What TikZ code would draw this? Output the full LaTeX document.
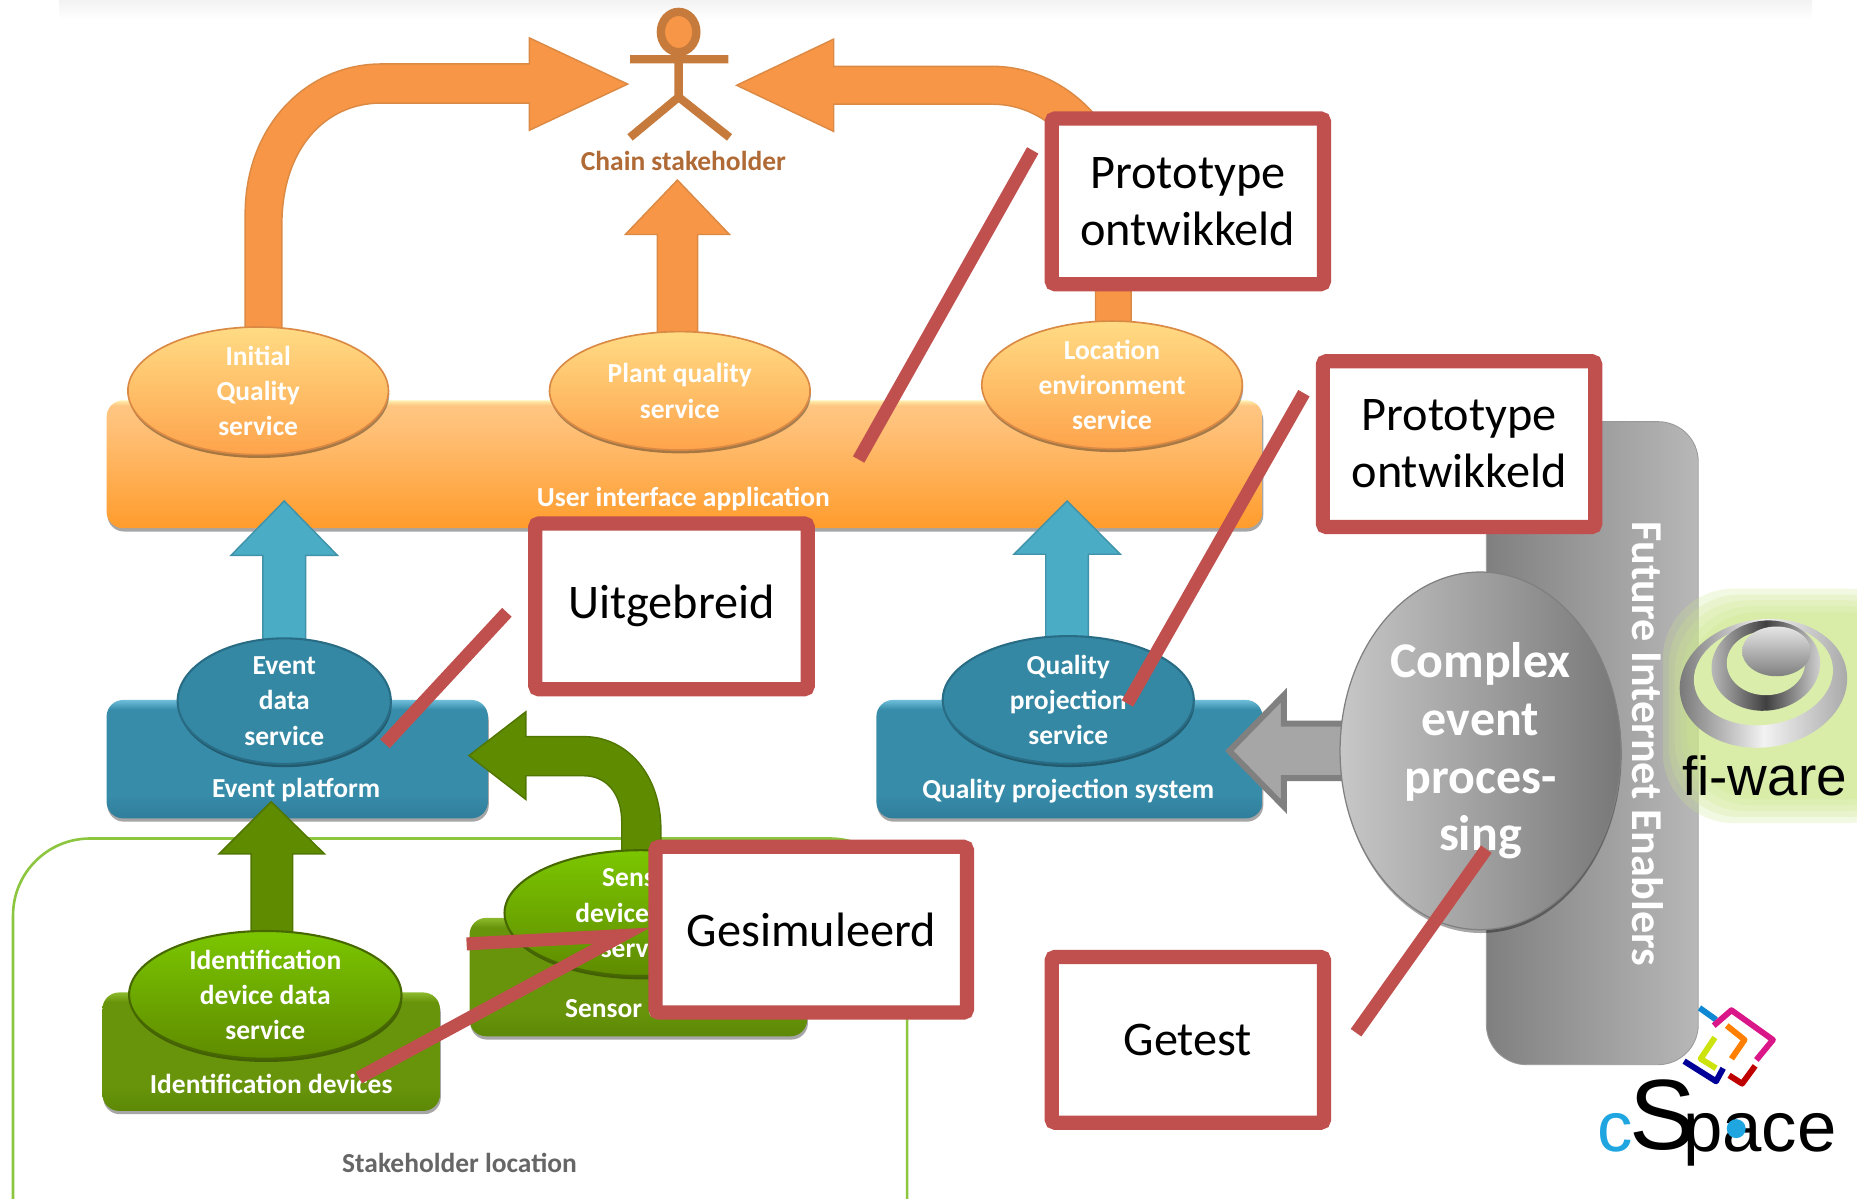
\documentclass[tikz,border=0pt]{standalone}
\usepackage{fontspec}
\setmainfont{Carlito}
\newfontfamily\logofont{Liberation Sans}
\usetikzlibrary{shapes.geometric,shadows}

\definecolor{fatorange}{HTML}{F79646}
\definecolor{darkorange}{HTML}{DB8A45}
\definecolor{actorline}{HTML}{C67A3C}
\definecolor{actortext}{HTML}{B06A35}
\definecolor{fatblue}{HTML}{4BACC6}
\definecolor{darkblue}{HTML}{2F7F9C}
\definecolor{fatgreen}{HTML}{5F8B00}
\definecolor{framegreen}{HTML}{8CC63F}
\definecolor{fatgrey}{HTML}{A6A6A6}
\definecolor{pointerred}{HTML}{C0504D}
\definecolor{glowgreen}{HTML}{CDE78F}
\definecolor{cspaceblue}{HTML}{1FA5E0}

\pgfdeclareverticalshading{orangebar}{100bp}{color(0bp)=(orange!0!white);color(25bp)=(rgb,255:red,255;green,156;blue,44);color(62bp)=(rgb,255:red,255;green,190;blue,115);color(73bp)=(rgb,255:red,255;green,198;blue,130);color(75bp)=(rgb,255:red,255;green,240;blue,175);color(100bp)=(rgb,255:red,255;green,240;blue,175)}
\pgfdeclareverticalshading{bluebar}{100bp}{color(0bp)=(rgb,255:red,47;green,125;blue,155);color(25bp)=(rgb,255:red,47;green,125;blue,155);color(35bp)=(rgb,255:red,55;green,140;blue,169);color(71bp)=(rgb,255:red,55;green,140;blue,169);color(75bp)=(rgb,255:red,110;green,190;blue,218);color(100bp)=(rgb,255:red,110;green,190;blue,218)}
\pgfdeclareverticalshading{greenbar}{100bp}{color(0bp)=(rgb,255:red,92;green,136;blue,6);color(25bp)=(rgb,255:red,92;green,136;blue,6);color(35bp)=(rgb,255:red,103;green,148;blue,10);color(71bp)=(rgb,255:red,103;green,148;blue,10);color(75bp)=(rgb,255:red,140;green,185;blue,45);color(100bp)=(rgb,255:red,140;green,185;blue,45)}

\tikzset{
	softshadow/.style = {drop shadow={shadow xshift=0.2pt,shadow yshift=-0.8pt,opacity=0.35,fill=black}},
	whitetext/.style = {text=white,align=center,font=\bfseries\fontsize{6.6}{8.5}\selectfont},
	bar/.style = {rectangle,rounded corners=1.4mm,softshadow,minimum height=10mm,inner sep=0},
	bubble/.style = {ellipse,softshadow,inner sep=0,whitetext},
	orangebubble/.style = {bubble,draw=darkorange,line width=0.4pt,top color=orange!35!white!80!yellow,bottom color=orange!70!white!85!fatorange,minimum width=22mm,minimum height=10mm},
	bluebubble/.style = {bubble,draw=darkblue!85!black,line width=0.5pt,fill=blue!0!darkblue!80!fatblue,minimum height=9.8mm},
	greenbubble/.style = {bubble,draw=fatgreen!75!black,line width=0.5pt,top color=fatgreen!70!green!70!yellow,bottom color=fatgreen,minimum width=23mm,minimum height=10mm},
	fatarrow/.style = {line width=0.35pt,line join=miter},
	redbox/.style = {rectangle,draw=pointerred,line width=1.2mm,fill=white,rounded corners=0.3mm,align=center,minimum width=23mm,minimum height=14mm,inner sep=0,font=\fontsize{11.6}{13.7}\selectfont},
	pointer/.style = {draw=pointerred,line width=1.1mm,line join=miter},
	iconline/.style = {line width=0.5mm,line join=round}
}

\begin{document}
\begin{tikzpicture}[x=0.1mm,y=-0.1mm]
	\clip (0,0) rectangle (1568,1012);
	\shade[top color=black!5,bottom color=white] (50,0) rectangle (1530,16);

	% orange arrows
	\filldraw[fatarrow,fill=fatorange,draw=darkorange] (207,285) -- (207,181) .. controls (207,105) and (260,54) .. (322,54) -- (447,54) -- (447,32) -- (530,71) -- (447,110) -- (447,87) -- (322,87) .. controls (275,87) and (238,125) .. (238,190) -- (238,285) -- cycle;
	\filldraw[fatarrow,fill=fatorange,draw=darkorange] (955,285) -- (955,180) .. controls (955,110) and (900,56) .. (838,56) -- (704,56) -- (704,33) -- (622,72) -- (704,111) -- (704,88) -- (838,88) .. controls (885,88) and (925,130) .. (925,190) -- (925,285) -- cycle;
	\filldraw[fatarrow,fill=fatorange,draw=darkorange] (555,290) -- (555,198) -- (528,198) -- (572,152) -- (616,198) -- (589,198) -- (589,290) -- cycle;

	% stakeholder
	\coordinate (hip) at (573,82);
	\draw[actorline,line width=0.7mm,fill=fatorange] (573,27) ellipse [x radius=15,y radius=17];
	\draw[actorline,line width=0.7mm] (532,50) -- (615,50) (573,44) -- (hip) (532,116) -- (hip) -- (616,116);
	\node[text=actortext,font=\bfseries\fontsize{6.6}{8.5}\selectfont] (chain) at (577,136) {Chain stakeholder};

	% user interface
	\node[bar,shading=orangebar,minimum width=97.6mm,minimum height=10.8mm] (userbar) at (578,392) {};
	\node[whitetext] (userlabel) at (577,421) {User interface application};
	\node[orangebubble] (initial) at (218,330) {Initial\\Quality\\service};
	\node[orangebubble] (plant) at (574,330) {Plant quality\\service};
	\node[orangebubble] (location) at (939,325) {Location\\environment\\service};

	% blue arrows and platforms
	\filldraw[fatarrow,fill=fatblue,draw=fatblue!85!black] (222,555) -- (222,469) -- (195,469) -- (240,423) -- (285,469) -- (258,469) -- (258,555) -- cycle;
	\filldraw[fatarrow,fill=fatblue,draw=fatblue!85!black] (883,550) -- (883,468) -- (856,468) -- (901,423) -- (946,468) -- (919,468) -- (919,550) -- cycle;
	\node[bar,shading=bluebar,minimum width=32.2mm] (eventbar) at (251,641) {};
	\node[bar,shading=bluebar,minimum width=32.6mm] (qualitybar) at (903,641) {};
	\node[bubble,draw=darkblue!85!black,line width=0.5pt,fill=darkblue!80!fatblue,minimum width=18mm,minimum height=9.6mm] (event) at (240,592) {Event\\data\\service};
	\node[bubble,draw=darkblue!85!black,line width=0.5pt,fill=darkblue!80!fatblue,minimum width=21.2mm,minimum height=10mm] (projection) at (902,591) {Quality\\projection\\service};
	\node[whitetext] (eventlabel) at (250,667) {Event platform};
	\node[whitetext] (qualitylabel) at (902,668) {Quality projection system};

	% stakeholder location
	\draw[framegreen,line width=0.22mm,rounded corners=6.5mm] (11,708) rectangle (766,1090);
	\node[text=black!60,font=\fontsize{6.6}{8.5}\selectfont\bfseries] (place) at (388,982) {Stakeholder location};

	\filldraw[fatarrow,fill=fatgreen,draw=fatgreen!85!black] (212,795) -- (212,721) -- (185,721) -- (229,677) -- (274,721) -- (247,721) -- (247,795) -- cycle;
	\filldraw[fatarrow,fill=fatgreen,draw=fatgreen!85!black] (558,730) -- (558,700) .. controls (558,655) and (530,622) .. (493,622) -- (444,622) -- (444,601) -- (396,638) -- (444,675) -- (444,655) -- (493,655) .. controls (512,655) and (525,670) .. (525,694) -- (525,730) -- cycle;

	\node[bar,shading=greenbar,minimum width=28.5mm] (sensorbar) at (539,825) {};
	\node[bar,shading=greenbar,minimum width=28.5mm] (idbar) at (229,888) {};
	\node[greenbubble] (sensor) at (541,771) {Sensor\\device data\\service};
	\node[greenbubble] (identification) at (224,840) {Identification\\device data\\service};
	\node[whitetext] (sensorlabel) at (548,851) {Sensor devices};
	\node[whitetext] (idlabel) at (229,915) {Identification devices};

	% future internet enablers
	\shade[left color=black!50,right color=black!28,draw=black!40,line width=0.2pt,rounded corners=3.4mm] (1255,356) rectangle (1434,899);
	\node[text=white,rotate=-90,font=\bfseries\fontsize{10.6}{12}\selectfont] (enablers) at (1391,628) {Future Internet Enablers};

	\filldraw[fatarrow,fill=fatgrey,draw=black!50,line width=0.5mm] (1140,611) -- (1084,611) -- (1084,587) -- (1038,634) -- (1084,681) -- (1084,657) -- (1140,657) -- cycle;
	\node[ellipse,left color=black!22,right color=black!53,draw=black!50,line width=0.3pt,softshadow,minimum width=23.7mm,minimum height=30.2mm,inner sep=0,text=white,align=center,font=\bfseries\fontsize{12}{13.9}\selectfont] (complex) at (1250,634) {Complex\\event\\proces-\\sing};

	% fi-ware
	\foreach \g in {0,5,10,15,20}
		\fill[glowgreen,fill opacity=0.25,rounded corners=6mm] (1404+\g,497+\g) rectangle (1620,695-\g);
	\shade[left color=black!55,right color=black!35,middle color=black!5,rotate around={8:(1489,577)}] (1489,577) ellipse [x radius=71,y radius=54];
	\fill[glowgreen!75!white,rotate around={8:(1489,570)}] (1489,570) ellipse [x radius=59,y radius=42];
	\shade[left color=black!25,right color=black!15,middle color=black!75,rotate around={8:(1491,562)}] (1491,562) ellipse [x radius=46,y radius=38];
	\fill[glowgreen!75!white] (1491,560) ellipse [x radius=33,y radius=27];
	\shade[top color=black!10,bottom color=black!50] (1500,550) ellipse [x radius=29,y radius=21];
	\node[font=\logofont\fontsize{13.2}{15}\selectfont] (fiware) at (1490,655) {fi-ware};

	% cspace
	\draw[iconline,cyan!70!blue] (1435,851) -- (1449,861);
	\draw[iconline,magenta!90!black] (1447,866) -- (1462,853) -- (1497,878) -- (1483,895);
	\draw[iconline,blue!60!black] (1422,896) -- (1449,913) -- (1455,902);
	\draw[iconline,red!75!black] (1460,908) -- (1471,915) -- (1482,900);
	\draw[iconline,yellow!80!green] (1448,876) -- (1436,894) -- (1449,902);
	\draw[iconline,orange] (1458,866) -- (1473,878) -- (1462,894);
	\node[inner sep=0,font=\logofont\fontsize{17}{17}\selectfont] (cspace) at (1450,948) {\textcolor{cspaceblue}{c}\kern-1pt\raisebox{0.5pt}{\fontsize{24}{24}\selectfont S}\kern-3pt pace};
	\fill[cspaceblue] (1466,953) circle (8);

	% labels and pointers
	\coordinate (protoAfrom) at (872,127);
	\coordinate (protoAto) at (725,388);
	\coordinate (protoBfrom) at (1101,332);
	\coordinate (protoBto) at (952,594);
	\coordinate (grownfrom) at (428,517);
	\coordinate (grownto) at (325,628);
	\coordinate (simfrom) at (394,797);
	\coordinate (simmid) at (525,790);
	\coordinate (simto) at (303,910);
	\coordinate (testfrom) at (1145,872);
	\coordinate (testto) at (1255,717);
	\draw[pointer] (protoAfrom) -- (protoAto);
	\draw[pointer] (protoBfrom) -- (protoBto);
	\draw[pointer] (grownfrom) -- (grownto);
	\draw[pointer] (simfrom) -- (simmid) -- (simto);
	\draw[pointer] (testfrom) -- (testto);
	\node[redbox] (protoA) at (1003,170) {Prototype\\ontwikkeld};
	\node[redbox] (protoB) at (1232,375) {Prototype\\ontwikkeld};
	\node[redbox] (grown) at (567,512) {Uitgebreid};
	\node[redbox,minimum width=26.3mm] (simulated) at (685,785) {Gesimuleerd};
	\node[redbox] (tested) at (1003,878) {Getest};
\end{tikzpicture}
\end{document}
